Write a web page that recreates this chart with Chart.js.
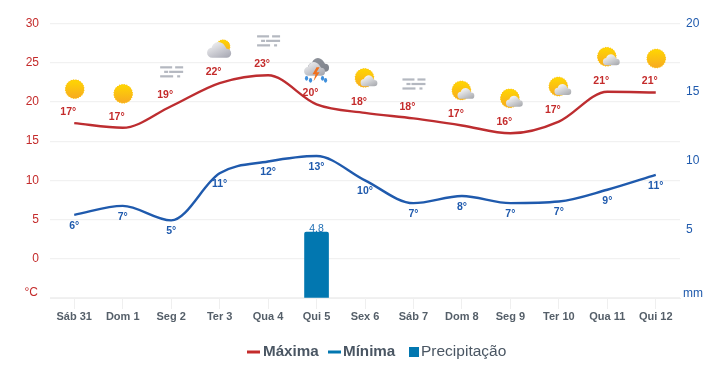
<!DOCTYPE html>
<html><head><meta charset="utf-8">
<style>html,body{margin:0;padding:0;background:#fff}#w{position:relative;width:726px;height:371px}</style>
<script src="https://cdn.jsdelivr.net/npm/chart.js@4"></script>
</head><body><div id="w"><canvas id="c" width="726" height="371"></canvas></div>
<script>
const categories=['Sáb 31','Dom 1','Seg 2','Ter 3','Qua 4','Qui 5','Sex 6','Sáb 7','Dom 8','Seg 9','Ter 10','Qua 11','Qui 12'];
const maxima=[17.3,16.7,19.45,22.4,23.4,19.7,18.6,17.9,17,16,17.5,21.3,21.2];
const minima=[5.6,6.75,4.9,10.9,12.4,13.1,10,7.1,8,7.1,7.3,8.8,10.7];
const precip=[0,0,0,0,0,4.8,0,0,0,0,0,0,0];
const maxLabels=[17,17,19,22,23,20,18,18,17,16,17,21,21];
const minLabels=[6,7,5,11,12,13,10,7,8,7,7,9,11];
const icons=['sun','sun','fog','cloudsun','fog','storm','suncloud','fog','suncloud','suncloud','suncloud','suncloud','sun'];
const RED='#c42b2b',BLUE='#1f5aad',BAR='#0277b0',TXT='#4a5663';

function sun(ctx,x,y,r){
  ctx.fillStyle='#fdc414';ctx.beginPath();
  for(let i=0;i<48;i++){const a=i*Math.PI/24,q=i%2?r:r-0.9;ctx.lineTo(x+q*Math.cos(a),y+q*Math.sin(a));}
  ctx.closePath();ctx.fill();
  const g=ctx.createLinearGradient(x,y-r,x,y+r);g.addColorStop(0,'#ffd800');g.addColorStop(1,'#f7a823');
  ctx.fillStyle=g;ctx.beginPath();ctx.arc(x,y,r-0.8,0,7);ctx.fill();
}
function cloud(ctx,x,y,s,c1,c2){
  const g=ctx.createLinearGradient(x-s*.4,y-s,x+s*.4,y+s*.7);g.addColorStop(0,c1);g.addColorStop(1,c2);
  ctx.fillStyle=g;ctx.beginPath();
  ctx.arc(x-s*.6,y+s*.1,s*.45,Math.PI/2,Math.PI*1.5);
  ctx.arc(x-s*.05,y-s*.2,s*.62,Math.PI*1.1,Math.PI*1.85);
  ctx.arc(x+s*.65,y+s*.15,s*.4,-Math.PI/2,Math.PI/2);
  ctx.closePath();ctx.fill();
}
function fog(ctx,x,y){
  ctx.fillStyle='#b4b8c0';
  [[-11,-5,12],[4,-5,8],[-7,-0.5,4],[-2,-0.5,14],[-11,4,13],[6,4,3]].forEach(r=>ctx.fillRect(x+r[0],y+r[1]-1,r[2],2.2));
}
function drawIcon(ctx,t,x,y){
  if(t==='sun'){sun(ctx,x+0.5,y,10);}
  else if(t==='fog'){fog(ctx,x,y);}
  else if(t==='suncloud'){sun(ctx,x-0.5,y-1,10);cloud(ctx,x+4,y+3,8,'#ffffff','#a9abb0');}
  else if(t==='cloudsun'){sun(ctx,x+3.5,y-2.5,7.5);cloud(ctx,x-0.5,y+2.4,11.5,'#f4f4f5','#a8a9b4');}
  else if(t==='storm'){
    cloud(ctx,x+2,y-4,10,'#8f939b','#7f838c');
    cloud(ctx,x-2,y,10,'#f2f2f4','#a4a6ae');
    ctx.fillStyle='#f2701c';ctx.beginPath();
    [[0,-3],[-4,4],[-1,4],[-3,11],[3,2],[0,2],[3,-3]].forEach(p=>ctx.lineTo(x+p[0],y+p[1]));ctx.closePath();ctx.fill();
    ctx.fillStyle='#3f8fdc';[[-10,8],[-6,10],[6,8],[9,10]].forEach(p=>{ctx.beginPath();ctx.ellipse(x+p[0],y+p[1],1.6,2.4,0,0,7);ctx.fill();});
  }
}
const deco={id:'deco',afterDatasetsDraw(ch){
  const ctx=ch.ctx,xs=ch.scales.x,y1=ch.scales.y,y2=ch.scales.y2;
  ctx.save();
  ctx.textAlign='center';ctx.textBaseline='middle';
  ctx.font='bold 10.5px "Liberation Sans"';
  categories.forEach((c,i)=>{
    const px=xs.getPixelForValue(i);
    const hy=y1.getPixelForValue(maxima[i]);
    ctx.fillStyle=RED;ctx.fillText(maxLabels[i]+'°',px-6,hy-11);
    ctx.fillStyle=BLUE;ctx.fillText(minLabels[i]+'°',px,y1.getPixelForValue(minima[i])+11);
    drawIcon(ctx,icons[i],px,hy-34);
    if(precip[i]>0){ctx.fillStyle='#1f6fb5';ctx.font='10.5px "Liberation Sans"';ctx.fillText(precip[i].toFixed(1),px,y2.getPixelForValue(precip[i])-3.5);ctx.font='bold 10.5px "Liberation Sans"';}
  });
  ctx.font='12px "Liberation Sans"';
  ctx.textAlign='right';ctx.fillStyle=RED;ctx.fillText('°C',38,293);
  ctx.textAlign='left';ctx.fillStyle=BLUE;ctx.fillText('mm',683,293.5);
  const ds=ch.data.datasets,ly=352;
  ctx.textBaseline='middle';
  ctx.lineWidth=3;ctx.strokeStyle=RED;ctx.beginPath();ctx.moveTo(247,ly);ctx.lineTo(260,ly);ctx.stroke();
  ctx.strokeStyle=BAR;ctx.beginPath();ctx.moveTo(328,ly);ctx.lineTo(341,ly);ctx.stroke();
  ctx.fillStyle=BAR;ctx.fillRect(409,347,10,10);
  ctx.fillStyle=TXT;ctx.font='bold 15.2px "Liberation Sans"';
  ctx.fillText(ds[0].label,263,ly);ctx.fillText(ds[1].label,343,ly);
  ctx.font='15.5px "Liberation Sans"';ctx.fillText(ds[2].label,421,ly);
  ctx.restore();
}};
new Chart(document.getElementById('c'),{
  data:{labels:categories,datasets:[
    {type:'line',label:'Máxima',data:maxima,yAxisID:'y',borderColor:'#bd2d30',borderWidth:2.4,pointRadius:0,cubicInterpolationMode:'monotone',order:1},
    {type:'line',label:'Mínima',data:minima,yAxisID:'y',borderColor:BLUE,borderWidth:2.4,pointRadius:0,cubicInterpolationMode:'monotone',order:1},
    {type:'bar',label:'Precipitação',data:precip,yAxisID:'y2',backgroundColor:c=>c.raw>0?BAR:'transparent',barThickness:24,borderRadius:{topLeft:2,topRight:2},order:2}
  ]},
  plugins:[deco],
  options:{responsive:false,animation:false,events:[],
    layout:{padding:{top:23.5,bottom:0,left:0,right:0}},
    plugins:{legend:{display:false},tooltip:{enabled:false}},
    scales:{
      x:{offset:true,border:{color:'#efefef'},afterFit(s){s.height=73;},
        grid:{offset:false,drawOnChartArea:false,color:'#efefef',tickLength:11},
        ticks:{color:'#555f69',font:{family:'Liberation Sans',weight:'bold',size:11},padding:1,maxRotation:0,autoSkip:false}},
      y:{position:'left',min:-5,max:30,
        border:{display:false},
        grid:{color:'#f1f1f1',drawTicks:false,lineWidth:1.2},
        afterFit(s){s.width=50;},
        ticks:{stepSize:5,color:RED,padding:11,font:{family:'Liberation Sans',size:12},callback:v=>v===-5?'':v}},
      y2:{position:'right',min:0,max:20,
        border:{display:false},
        grid:{drawOnChartArea:false,drawTicks:false},
        afterFit(s){s.width=46;},
        ticks:{stepSize:5,color:BLUE,padding:6,font:{family:'Liberation Sans',size:12},callback:v=>v===0?'':v}}
    }
  }
});
</script></body></html>
